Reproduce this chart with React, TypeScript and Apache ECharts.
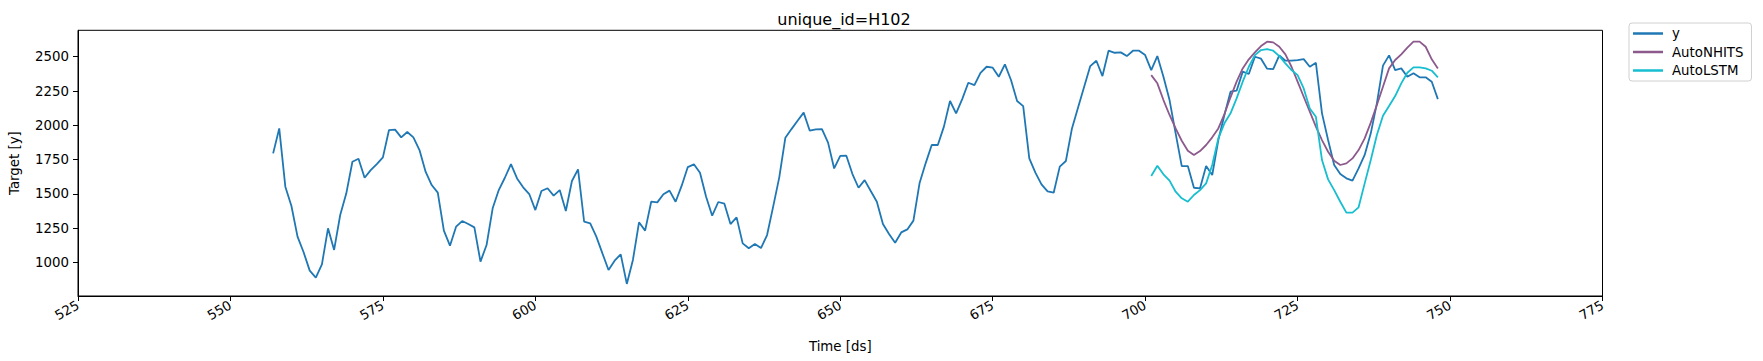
import React, { useEffect, useRef } from "react";
import * as echarts from "echarts";

const TITLE = "unique_id=H102";
const X_NAME = "Time [ds]";
const Y_NAME = "Target [y]";
const SERIES_NAMES = ["y", "AutoNHITS", "AutoLSTM"];
const COLORS = ["#1f77b4", "#8c5a8c", "#17becf"];
const Y_TICKS = [1000, 1250, 1500, 1750, 2000, 2250, 2500];

const Y_START = 557;
const yValues = [
  1795, 1977, 1552, 1411, 1187, 1073, 939, 888, 985, 1248, 1090, 1345, 1503, 1734, 1756, 1617, 1673, 1717, 1766,
  1965, 1968, 1912, 1951, 1912, 1819, 1661, 1564, 1508, 1231, 1121, 1260, 1301, 1279, 1255, 1005, 1126, 1394,
  1527, 1617, 1717, 1612, 1547, 1498, 1381, 1520, 1540, 1486, 1527, 1374, 1593, 1678, 1296, 1284, 1187, 1065,
  944, 1012, 1058, 842, 1017, 1292, 1231, 1442, 1437, 1496, 1523, 1442, 1559, 1695, 1715, 1654, 1479, 1340,
  1440, 1428, 1279, 1328, 1138, 1102, 1133, 1104, 1199, 1406, 1620, 1909, 1972, 2033, 2092, 1960, 1970, 1972,
  1873, 1685, 1776, 1778, 1644, 1544, 1600, 1520, 1442, 1279, 1206, 1143, 1218, 1240, 1304, 1576, 1722, 1856,
  1856, 1990, 2177, 2087, 2191, 2310, 2293, 2383, 2427, 2420, 2354, 2444, 2330, 2177, 2140, 1758, 1654, 1569,
  1518, 1508, 1698, 1739, 1977, 2130, 2281, 2432, 2471, 2359, 2544, 2529, 2532, 2505, 2544, 2544, 2512, 2403,
  2505, 2354, 2184, 1941, 1702, 1702, 1544, 1540, 1702, 1637, 1892, 2075, 2245, 2252, 2391, 2374, 2500, 2486,
  2413, 2410, 2510, 2471, 2471, 2476, 2483, 2427, 2456, 2087, 1892, 1710, 1644, 1613, 1596, 1685, 1783, 1941,
  2160, 2435, 2510, 2403, 2415, 2354, 2379, 2350, 2350, 2318, 2191,
];

const F_START = 701;
const nhitsValues = [
  2366, 2306, 2184, 2075, 1977, 1887, 1814, 1783, 1812, 1856, 1912, 1977, 2082, 2204, 2318, 2415, 2481, 2532,
  2578, 2610, 2605, 2573, 2517, 2427, 2318, 2208, 2099, 1990, 1892, 1807, 1741, 1710, 1722, 1758, 1819, 1904,
  2019, 2148, 2281, 2415, 2476, 2517, 2566, 2610, 2610, 2573, 2481, 2415,
];
const lstmValues = [
  1630, 1705, 1642, 1596, 1515, 1467, 1442, 1491, 1527, 1576, 1710, 1904, 2014, 2087, 2196, 2318, 2427, 2512,
  2549, 2556, 2544, 2505, 2451, 2403, 2366, 2269, 2123, 2062, 1746, 1605, 1527, 1442, 1362, 1362, 1401, 1576,
  1746, 1929, 2070, 2140, 2213, 2306, 2383, 2422, 2422, 2415, 2398, 2350,
];

const toPairs = (start: number, vals: number[]) => vals.map((v, i) => [start + i, v]);

const FONT = "DejaVu Sans";
const FS = 13.33;

export default function App() {
  const ref = useRef<HTMLDivElement>(null);
  useEffect(() => {
    if (!ref.current) return;
    const chart = echarts.init(ref.current, null, { renderer: "svg" });
    const data = [toPairs(Y_START, yValues), toPairs(F_START, nhitsValues), toPairs(F_START, lstmValues)];
    chart.setOption({
      animation: false,
      backgroundColor: "#ffffff",
      textStyle: { fontFamily: FONT },
      title: {
        text: TITLE,
        left: 839,
        top: 6,
        textAlign: "center",
        textStyle: { fontFamily: FONT, fontSize: 16, fontWeight: "normal", color: "#000" },
      },
      legend: {
        orient: "vertical",
        left: 1629,
        top: 23,
        padding: [4, 8, 4, 4],
        itemWidth: 30,
        itemHeight: 2.5,
        itemGap: 5.5,
        icon: "rect",
        borderColor: "#d0d0d0",
        borderWidth: 1,
        borderRadius: 3,
        textStyle: { fontFamily: FONT, fontSize: FS, color: "#000", padding: [0, 0, 0, 4] },
        data: SERIES_NAMES,
      },
      grid: {
        left: 75.5,
        top: 30.3,
        right: 160.5,
        bottom: 65,
        show: true,
        borderColor: "#000",
        borderWidth: 1,
        backgroundColor: "transparent",
      },
      xAxis: {
        type: "value",
        min: 525,
        max: 775,
        interval: 25,
        name: X_NAME,
        nameLocation: "middle",
        nameGap: 44,
        nameTextStyle: { fontFamily: FONT, fontSize: FS, color: "#000" },
        axisLine: { show: true, lineStyle: { color: "#000" } },
        axisTick: { show: true, length: 5, lineStyle: { color: "#000" } },
        axisLabel: { rotate: 30, margin: 8, fontFamily: FONT, fontSize: FS, color: "#000" },
        splitLine: { show: false },
      },
      yAxis: {
        type: "value",
        min: 754,
        max: 2693,
        name: Y_NAME,
        nameLocation: "middle",
        nameGap: 57,
        nameTextStyle: { fontFamily: FONT, fontSize: FS, color: "#000" },
        axisLine: { show: true, lineStyle: { color: "#000" } },
        axisTick: { show: true, length: 5, lineStyle: { color: "#000" }, customValues: Y_TICKS },
        axisLabel: {
          margin: 9,
          fontFamily: FONT,
          fontSize: FS,
          color: "#000",
          customValues: Y_TICKS,
          formatter: (v: number) => String(v),
        },
        splitLine: { show: false },
      },
      series: SERIES_NAMES.map((name, i) => ({
        name,
        type: "line",
        data: data[i],
        symbol: "none",
        showSymbol: false,
        color: COLORS[i],
        lineStyle: { width: 1.8, color: COLORS[i] },
        z: i === 0 ? 2 : 3 + i,
      })),
    });
    return () => chart.dispose();
  }, []);
  return <div ref={ref} style={{ position: "fixed", left: 0, top: 0, width: 1763, height: 361 }} />;
}
